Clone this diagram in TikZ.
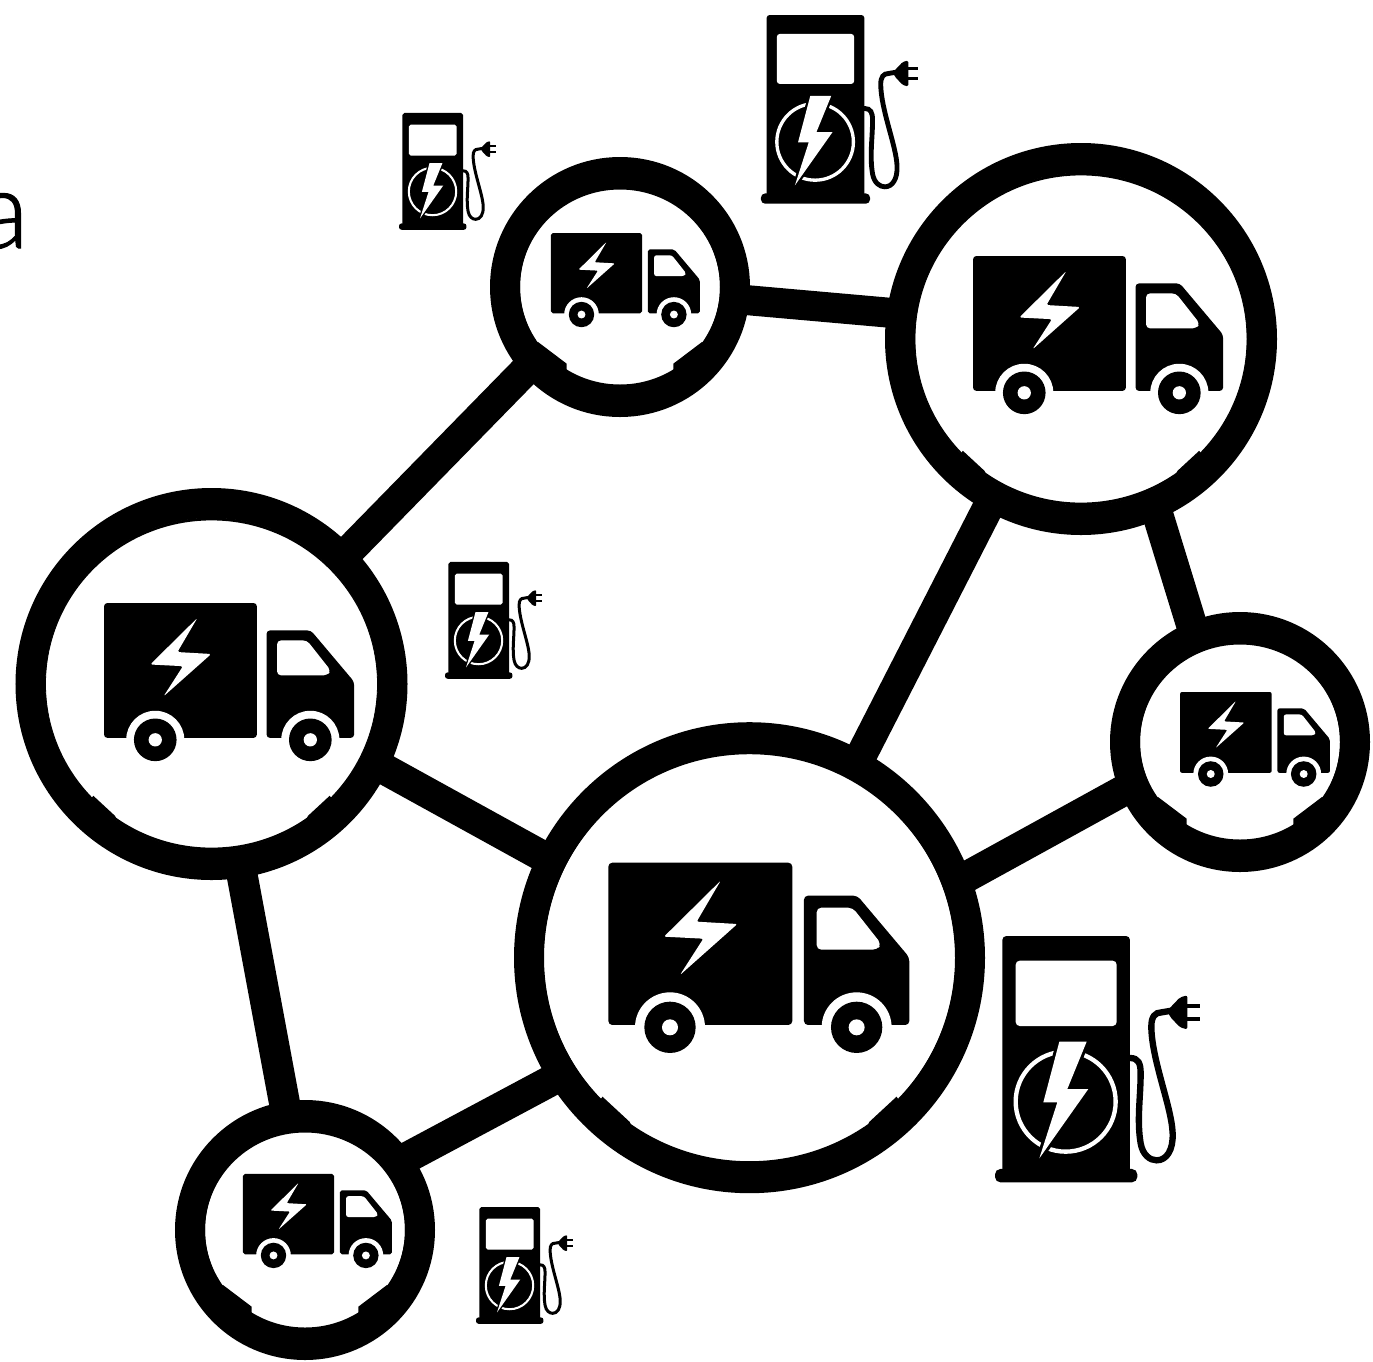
\documentclass[tikz,border=0pt]{standalone}
\usepackage{fontspec}
\setmainfont{Lato}[UprightFont=* Light,UprightFeatures={FakeBold=1}]
\tikzset{
  hubring/.style={circle,draw=black,fill=white,inner sep=0pt,outer sep=0pt,line width=#1},
  hubring/.default=30pt,
  linkline/.style={draw=black,line width=31pt},
  pics/truckicon/.style={code={
    \fill[rounded corners=#1*12pt] (55,68) rectangle (607,555);
    \fill[white] (240,562) circle (105);
    \fill[rounded corners=#1*12pt] (642,555) -- (642,167) -- (802,167) -- (958,352) -- (958,555) -- cycle;
    \fill[white] (800,562) circle (105);
    \fill (240,562) circle (77);
    \fill (800,562) circle (77);
    \fill[white] (240,562) circle (24);
    \fill[white] (800,562) circle (24);
    \fill[white,rounded corners=#1*14pt] (680,203) -- (788,203) -- (874,312) -- (862,329) -- (680,329) -- cycle;
    \fill[white,rounded corners=#1*6pt] (392,122) -- (222,290) -- (340,296) -- (270,405) -- (442,252) -- (320,245) -- cycle;
  }},
  pics/pumpicon/.style={code={
    \fill[rounded corners=#1*12pt] (67,760) -- (67,48) -- (450,48) -- (450,760) -- cycle;
    \fill[rounded corners=#1*16pt] (45,747) rectangle (472,787);
    \fill[white,rounded corners=#1*12pt] (107,122) rectangle (410,318);
    \draw[white,line width=#1*13pt] (257,545) circle (150);
    \fill[white,draw=black,line width=#1*18pt,line join=miter] (238,365) -- (320,365) -- (262,507) -- (325,507) -- (178,715) -- (232,547) -- (190,547) -- cycle;
    \fill[white] (238,365) -- (320,365) -- (262,507) -- (325,507) -- (178,715) -- (232,547) -- (190,547) -- cycle;
    \draw[line width=#1*19pt,line cap=round] (450,414) .. controls (475,414) and (482,430) .. (482,460) .. controls (482,530) and (470,600) .. (482,670) .. controls (488,705) and (510,721) .. (530,721) .. controls (560,721) and (580,690) .. (578,640) .. controls (575,560) and (515,420) .. (514,320) .. controls (514,290) and (525,277) .. (545,277) -- (575,272);
    \fill[rounded corners=#1*6pt] (562,272) -- (600,232) -- (622,226) -- (622,328) -- (600,322) -- (570,290) -- cycle;
    \fill (615,251) rectangle (660,264);
    \fill (615,291) rectangle (660,304);
  }},
  pics/ringnotch/.style={code={
    \fill (-147,139) -- (-120,164) -- (-118,168) -- (-155,150) -- cycle;
    \fill (147,139) -- (120,164) -- (118,168) -- (155,150) -- cycle;
    \fill[even odd rule] (0,0) circle (207) (0,0) ellipse (206 and 203.5);
  }},
  pics/smallnotch/.style={code={
    \fill (-82,55) -- (-53.3,76.7) -- (-53.3,85) -- (-90,62) -- cycle;
    \fill (82,55) -- (53.3,76.7) -- (53.3,85) -- (90,62) -- cycle;
    \fill[even odd rule] (0,0) circle (101) (0,0) ellipse (100 and 97.5);
  }}
}
\begin{document}
\begin{tikzpicture}[x=1pt,y=-1pt]
\useasboundingbox (0,0) rectangle (1373,1361);
\fill[white] (0,0) rectangle (1373,1361);
\node[anchor=base east,inner sep=0pt,font=\fontsize{108}{108}\selectfont] (cuttext) at (29,248) {a};
% hubs
\node[hubring,minimum size=441pt] (large) at (749.5,957.7) {};
\node[hubring,minimum size=362pt] (left) at (211.5,684) {};
\node[hubring,minimum size=362pt] (topright) at (1081,339) {};
\node[hubring,minimum size=230pt] (topsmall) at (620,287) {};
\node[hubring,minimum size=230pt] (right) at (1240,742) {};
\node[hubring,minimum size=230pt] (bottom) at (305,1230) {};
% links
\draw[linkline] (left.44) -- (topsmall.221.7);
\draw[linkline,line width=30pt] (topsmall.-6.4) -- (topright.172.25);
\draw[linkline] (topright.241.4) -- (large.61.5);
\draw[linkline] (topright.-66.4) -- (right.113.2);
\draw[linkline] (large.20.2) -- (right.202.3);
\draw[linkline] (left.-26.6) -- (large.154);
\draw[linkline] (left.-81) -- (bottom.99.9);
\draw[linkline] (bottom.36.9) -- (large.212.2);
% notches
\pic (n1) [shift={(large)},scale=1] {ringnotch};
\pic (n2) [shift={(left)},scale=.804] {ringnotch};
\pic (n3) [shift={(topright)},scale=.804] {ringnotch};
\pic (n4) [shift={(topsmall)}] {smallnotch};
\pic (n5) [shift={(right)}] {smallnotch};
\pic (n6) [shift={(bottom)}] {smallnotch};
% trucks
\pic (t1) [shift={(590,840)},scale=.3333] {truckicon=.3333};
\pic (t2) [shift={(88.8,584.2)},scale=.2769] {truckicon=.2769};
\pic (t3) [shift={(957.8,237.2)},scale=.2769] {truckicon=.2769};
\pic (t4) [shift={(541.9,221.8)},scale=.165] {truckicon=.165};
\pic (t5) [shift={(1170.9,680.7)},scale=.166] {truckicon=.166};
\pic (t6) [shift={(233.9,1162.7)},scale=.165] {truckicon=.165};
% pumps
\pic (p1) [shift={(980,920)},scale=.3333] {pumpicon=.3333};
\pic (p2) [shift={(749.5,2.75)},scale=.2553] {pumpicon=.2553};
\pic (p3) [shift={(391.9,105.4)},scale=.158] {pumpicon=.158};
\pic (p4) [shift={(437.9,554.4)},scale=.158] {pumpicon=.158};
\pic (p5) [shift={(468.9,1199.4)},scale=.158] {pumpicon=.158};
\end{tikzpicture}
\end{document}
